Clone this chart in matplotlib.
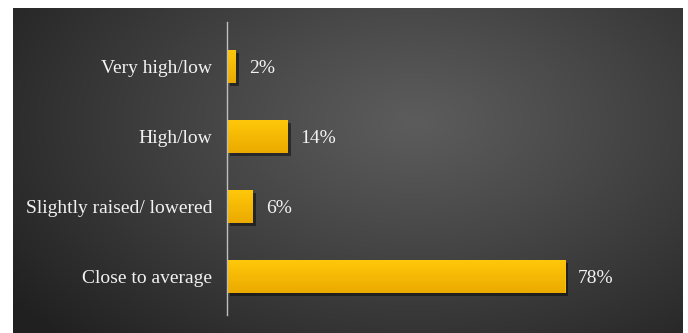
import numpy as np
import matplotlib
matplotlib.use("Agg")
import matplotlib.pyplot as plt
import matplotlib.patheffects as pe

categories = ["Close to average", "Slightly raised/ lowered", "High/low", "Very high/low"]
values = [78, 6, 14, 2]
value_labels = ["78%", "6%", "14%", "2%"]

W, H = 688, 333
fig = plt.figure(figsize=(W / 100, H / 100), dpi=100)
fig.patch.set_facecolor("white")

# background panel with radial gradient
bx0, by0, bx1, by1 = 13, 0, 683, 325  # pixels (from bottom for y)
bg = fig.add_axes([bx0 / W, by0 / H, (bx1 - bx0) / W, (by1 - by0) / H])
nx, ny = 400, 200
xx, yy = np.meshgrid(np.linspace(0, 1, nx), np.linspace(0, 1, ny))
cx, cy = 0.60, 0.35
r = np.sqrt(((xx - cx) / 0.75) ** 2 + ((yy - cy) / 0.95) ** 2)
r = np.clip(r, 0, 1)
light, dark = 0x5c / 255, 0x20 / 255
g = light + (dark - light) * r ** 1.1
img = np.dstack([g, g, g])
bg.imshow(img, aspect="auto", extent=[0, 1, 0, 1], origin="upper")
bg.set_xlim(0, 1)
bg.set_ylim(0, 1)
bg.axis("off")

# main axes
ax_left, ax_top, ax_bot = 227.5, 22, 315
px_per_pct = 338 / 78
ax_w = 430
ax = fig.add_axes([ax_left / W, (H - ax_bot) / H, ax_w / W, (ax_bot - ax_top) / H])
ax.patch.set_alpha(0)
unit = 70

ypos = np.arange(len(categories))
bars = ax.barh(ypos, values, height=33 / unit, color="#FFC000", zorder=3,
               path_effects=[pe.SimplePatchShadow(offset=(2, -2), shadow_rgbFace="black", alpha=0.45), pe.Normal()])

# vertical gradient inside bars
grad = np.linspace(0, 1, 64).reshape(-1, 1)
top_c = np.array([255, 200, 10]) / 255
bot_c = np.array([235, 170, 0]) / 255
gimg = top_c[None, None, :] * (1 - grad[:, :, None]) + bot_c[None, None, :] * grad[:, :, None]
for b in bars:
    x0, y0 = b.get_x(), b.get_y()
    w, h = b.get_width(), b.get_height()
    im = ax.imshow(gimg, extent=[x0, x0 + w, y0, y0 + h], origin="upper", aspect="auto", zorder=4)
    im.set_clip_path(b)
ax.set_xlim(0, ax_w / px_per_pct)
ax.set_ylim(-38.5 / unit, 3 + (293 - 248.5) / unit)

font = "Liberation Serif"
ax.set_yticks(ypos)
ax.set_yticklabels(categories, fontsize=14, color="#F2F2F2", family=font)
ax.tick_params(axis="y", length=0, pad=11)
ax.set_xticks([])

for b, lab in zip(bars, value_labels):
    ax.annotate(lab, (b.get_width(), b.get_y() + b.get_height() / 2),
                xytext=(9, 0), textcoords="offset points", va="center_baseline", ha="left",
                fontsize=14, color="#F2F2F2", family=font, zorder=5)

for s in ["top", "right", "bottom"]:
    ax.spines[s].set_visible(False)
ax.spines["left"].set_color("#BFBFBF")
ax.spines["left"].set_linewidth(1.0)
ax.spines["left"].set_zorder(6)

fig.savefig("out.png", dpi=100)
